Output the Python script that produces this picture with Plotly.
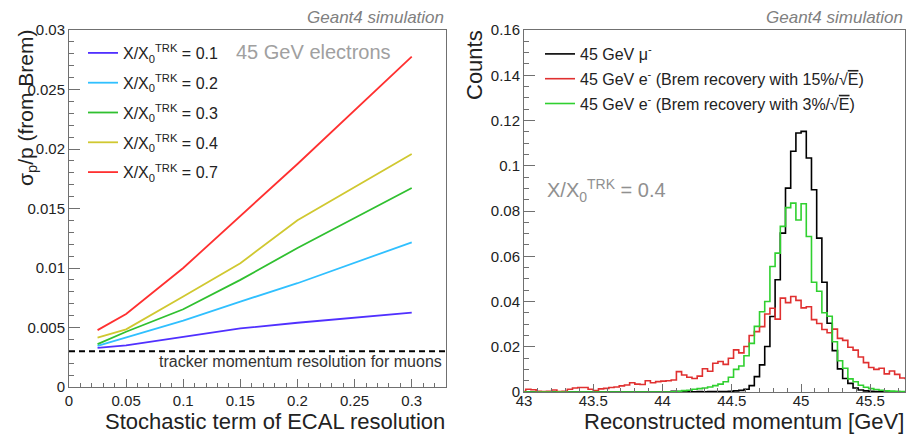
import numpy as np
import plotly.graph_objects as go

# ---------------- Left panel data ----------------
stoch_term = [0.025, 0.05, 0.1, 0.15, 0.2, 0.3]
res_x01 = [0.00329, 0.00349, 0.00422, 0.00492, 0.00540, 0.00625]
res_x02 = [0.00346, 0.00416, 0.00557, 0.00718, 0.00872, 0.01216]
res_x03 = [0.00360, 0.00464, 0.00653, 0.00900, 0.01168, 0.01672]
res_x04 = [0.00414, 0.00484, 0.00760, 0.01040, 0.01401, 0.01958]
res_x07 = [0.00478, 0.00613, 0.01000, 0.01435, 0.01874, 0.02776]
left_series = [
    ("X/X<sub>0</sub><sup>TRK</sup> = 0.1", res_x01, "#5030ff"),
    ("X/X<sub>0</sub><sup>TRK</sup> = 0.2", res_x02, "#30c0ff"),
    ("X/X<sub>0</sub><sup>TRK</sup> = 0.3", res_x03, "#30c030"),
    ("X/X<sub>0</sub><sup>TRK</sup> = 0.4", res_x04, "#d0c830"),
    ("X/X<sub>0</sub><sup>TRK</sup> = 0.7", res_x07, "#ff3030"),
]
tracker_res_muons = 0.003

# ---------------- Right panel data (histogram) ----------------
bin_lo = 42.975
bin_w = 0.0375
counts_mu = [0.0] * 29 + [
    0.0003, 0.0002, 0.0001, 0.0001, 0.0001, 0.0002, 0.0001, 0.0002, 0.0002, 0.0002,
    0.0002, 0.0003, 0.0005, 0.0007, 0.0012, 0.0028, 0.0068, 0.0120, 0.0201, 0.0334,
    0.0496, 0.0702, 0.0901, 0.1064, 0.1145, 0.1152, 0.1034, 0.0894, 0.0680, 0.0485,
    0.0304, 0.0183, 0.0102, 0.0060, 0.0038, 0.0018, 0.0009, 0.0005, 0.0003, 0.0002,
    0.0001] + [0.0] * 5
counts_e3 = [0.0] * 29 + [
    0.0001, 0.0003, 0.0006, 0.0008, 0.0012, 0.0015, 0.0018, 0.0022, 0.0028, 0.0035,
    0.0045, 0.0065, 0.0100, 0.0115, 0.0160, 0.0215, 0.0290, 0.0355, 0.0400, 0.0555,
    0.0614, 0.0732, 0.0815, 0.0835, 0.0760, 0.0832, 0.0687, 0.0485, 0.0445, 0.0350,
    0.0335, 0.0222, 0.0138, 0.0105, 0.0058, 0.0045, 0.0030, 0.0021, 0.0015, 0.0011,
    0.0008, 0.0005, 0.0004, 0.0003, 0.0002, 0.0001]
counts_e15 = [
    0.0002, 0.0012, 0.0010, 0.0003, 0.0002, 0.0003, 0.0009, 0.0002, 0.0003, 0.0012,
    0.0018, 0.0020, 0.0020, 0.0012, 0.0006, 0.0014, 0.0016, 0.0020, 0.0022, 0.0027,
    0.0031, 0.0041, 0.0035, 0.0033, 0.0050, 0.0041, 0.0046, 0.0048, 0.0050, 0.0053,
    0.0090, 0.0075, 0.0065, 0.0060, 0.0070, 0.0103, 0.0092, 0.0127, 0.0135, 0.0122,
    0.0149, 0.0186, 0.0173, 0.0201, 0.0250, 0.0267, 0.0289, 0.0345, 0.0370, 0.0322,
    0.0415, 0.0395, 0.0422, 0.0405, 0.0372, 0.0377, 0.0320, 0.0303, 0.0276, 0.0262,
    0.0278, 0.0237, 0.0228, 0.0198, 0.0185, 0.0155, 0.0130, 0.0108, 0.0100, 0.0105,
    0.0080, 0.0093, 0.0078, 0.0062, 0.0060]
SQRT_E = "\u221a<span style='text-decoration:overline'>E</span>"
right_series = [
    ("45 GeV \u03bc<sup>-</sup>", counts_mu, "#000000"),
    ("45 GeV e<sup>-</sup> (Brem recovery with 15%/" + SQRT_E + ")", counts_e15, "#e03030"),
    ("45 GeV e<sup>-</sup> (Brem recovery with 3%/" + SQRT_E + ")", counts_e3, "#30d030"),
]

W, H = 907, 435
FONT = "Liberation Sans, Arial, Helvetica, sans-serif"
AX = "#707070"
TXT = "#222222"

def px(x):
    return x / W

def py(y):
    return 1 - y / H

fig = go.Figure()

for i, (name, vals, col) in enumerate(left_series):
    fig.add_trace(go.Scatter(
        x=stoch_term, y=vals, mode="lines", name=name,
        line=dict(color=col, width=1.8), xaxis="x", yaxis="y",
        legend="legend", legendgroup="L%d" % i))

fig.add_hline(y=tracker_res_muons, line=dict(color="black", width=2, dash="6px,4px"),
              xref="x", yref="y")

for i, (name, vals, col) in enumerate(right_series):
    n = len(vals)
    edges = bin_lo + bin_w * np.arange(n + 1)
    yy = list(vals) + [vals[-1]]
    fig.add_trace(go.Scatter(
        x=edges, y=yy, mode="lines", line_shape="hv", name=name,
        line=dict(color=col, width=1.6), xaxis="x2", yaxis="y2",
        legend="legend2", legendgroup="R%d" % i))

common_axis = dict(showline=True, linecolor=AX, linewidth=1, mirror=True,
                   ticks="inside", tickcolor=AX, showgrid=False, zeroline=False,
                   automargin=False,
                   tickfont=dict(family=FONT, size=15, color=TXT))

fig.update_layout(
    template="none",
    width=W, height=H, margin=dict(l=0, r=0, t=0, b=0, autoexpand=False),
    paper_bgcolor="white", plot_bgcolor="white",
    font=dict(family=FONT, color=TXT),
    xaxis=dict(domain=[px(69), px(446)], range=[0, 0.33], dtick=0.05, tick0=0,
               ticklen=8, minor=dict(ticks="inside", dtick=0.01, ticklen=4, tickcolor=AX),
               anchor="y", **common_axis),
    yaxis=dict(domain=[py(387), py(30)], range=[0, 0.03], dtick=0.005, tick0=0,
               ticklen=11, minor=dict(ticks="inside", dtick=0.001, ticklen=5, tickcolor=AX),
               anchor="x", **common_axis),
    xaxis2=dict(domain=[px(524), px(905)], range=[43, 45.75], dtick=0.5, tick0=43,
                ticklen=8, minor=dict(ticks="inside", dtick=0.1, ticklen=4, tickcolor=AX),
                ticklabelstandoff=-5,
                anchor="y2", **common_axis),
    yaxis2=dict(domain=[py(392), py(30)], range=[0, 0.16], dtick=0.02, tick0=0,
                ticklen=11, minor=dict(ticks="inside", dtick=0.005, ticklen=5, tickcolor=AX),
                anchor="x2", **common_axis),
    legend=dict(x=px(83), y=py(36), xanchor="left", yanchor="top",
                bgcolor="rgba(0,0,0,0)", font=dict(family=FONT, size=16, color=TXT),
                tracegroupgap=6, itemwidth=30),
    legend2=dict(x=px(540), y=py(37), xanchor="left", yanchor="top",
                 bgcolor="rgba(0,0,0,0)", font=dict(family=FONT, size=16, color=TXT),
                 tracegroupgap=1, itemwidth=30),
    showlegend=True,
)

ann = [
    dict(text="<i>Geant4 simulation</i>", x=px(446), y=py(18), xanchor="right",
         font=dict(size=17, color="#808080")),
    dict(text="<i>Geant4 simulation</i>", x=px(905), y=py(18), xanchor="right",
         font=dict(size=17, color="#808080")),
    dict(text="45 GeV electrons", x=px(313), y=py(52), xanchor="center",
         font=dict(size=20, color="#a0a0a0")),
    dict(text="tracker momentum resolution for muons", x=px(444), y=py(361),
         xanchor="right", font=dict(size=16, color="#333333")),
    dict(text="X/X<sub>0</sub><sup>TRK</sup> = 0.4", x=px(545), y=py(190),
         xanchor="left", font=dict(size=20, color="#909090")),
    dict(text="Stochastic term of ECAL resolution", x=px(447), y=py(421),
         xanchor="right", font=dict(size=22, color=TXT)),
    dict(text="Reconstructed momentum [GeV]", x=px(906), y=py(421),
         xanchor="right", font=dict(size=22, color=TXT)),
    dict(text="\u03c3<sub>p</sub>/p (from Brem)", x=px(27), y=py(28), textangle=-90,
         xanchor="center", yanchor="top", font=dict(size=21, color=TXT)),
    dict(text="Counts", x=px(474), y=py(28), textangle=-90,
         xanchor="center", yanchor="top", font=dict(size=22, color=TXT)),
]
for a in ann:
    a.update(xref="paper", yref="paper", showarrow=False)
    a.setdefault("yanchor", "middle")
    a["font"]["family"] = FONT
fig.update_layout(annotations=ann)

fig.write_html("out.html")
